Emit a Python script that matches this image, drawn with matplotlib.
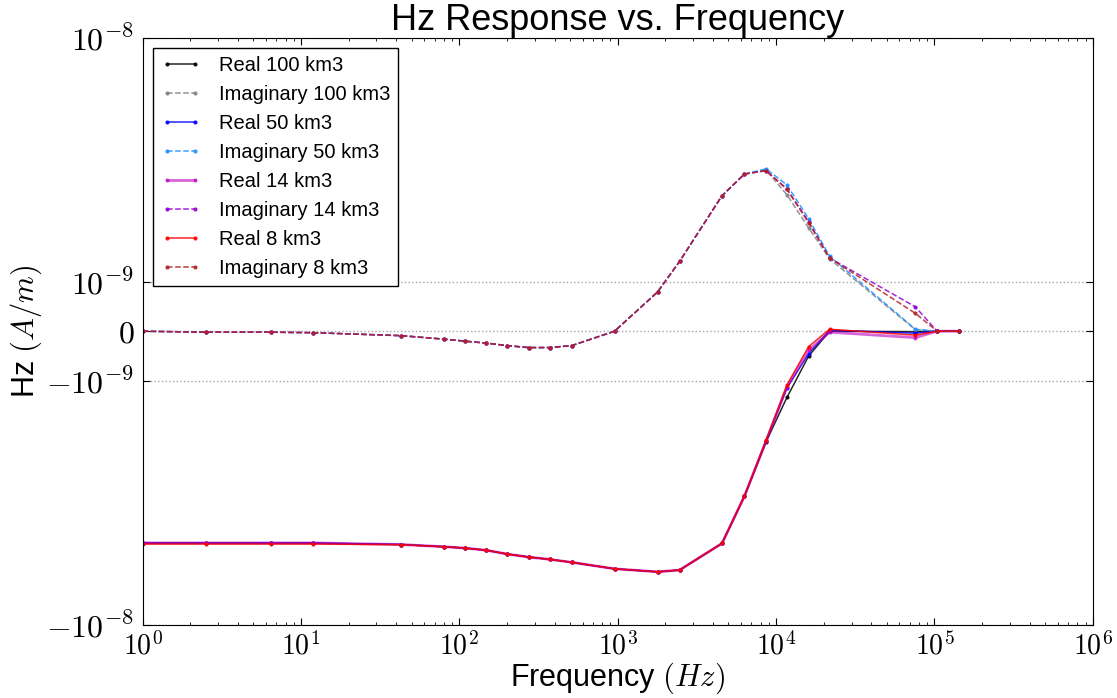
import numpy as np
import matplotlib
matplotlib.use("Agg")
import matplotlib.pyplot as plt
from matplotlib.ticker import FixedLocator, NullLocator, FuncFormatter

plt.rcParams['font.family'] = ['Liberation Sans', 'DejaVu Sans']
plt.rcParams['mathtext.fontset'] = 'cm'

# frequencies sampled (Hz)
freqs = [1, 2.5, 6.5, 12, 43, 80, 108, 148, 200, 274, 375, 514, 956,
         1786, 2460, 4560, 6320, 8650, 11720, 16070, 21800, 75900, 104000, 142500]

# Hz response, in units of 1e-9 A/m
real_100 = [-4.63, -4.63, -4.63, -4.63, -4.69, -4.79, -4.85, -4.95, -5.13, -5.28, -5.40, -5.55, -5.90,
            -6.07, -5.97, -4.64, -2.98, -1.78, -1.17, -0.50, 0.00, -0.01, 0.0, 0.0]
imag_100 = [0.0, -0.02, -0.02, -0.03, -0.09, -0.16, -0.20, -0.24, -0.29, -0.33, -0.33, -0.29, 0.0,
            0.79, 1.21, 2.25, 2.76, 2.87, 2.27, 1.66, 1.24, 0.03, 0.0, 0.0]
real_50 = [-4.62, -4.62, -4.62, -4.62, -4.69, -4.79, -4.85, -4.95, -5.13, -5.28, -5.40, -5.55, -5.90,
           -6.07, -5.97, -4.64, -2.97, -1.76, -1.07, -0.45, 0.02, -0.04, 0.0, 0.0]
imag_50 = [0.0, -0.02, -0.02, -0.03, -0.09, -0.16, -0.20, -0.24, -0.29, -0.33, -0.33, -0.29, 0.0,
           0.79, 1.21, 2.25, 2.76, 2.90, 2.49, 1.81, 1.27, 0.04, 0.0, 0.0]
real_14 = [-4.62, -4.62, -4.62, -4.62, -4.69, -4.79, -4.85, -4.95, -5.13, -5.28, -5.40, -5.55, -5.90,
           -6.07, -5.97, -4.64, -2.97, -1.77, -1.06, -0.38, -0.02, -0.13, 0.0, 0.0]
imag_14 = [0.0, -0.02, -0.02, -0.03, -0.09, -0.16, -0.20, -0.24, -0.29, -0.33, -0.33, -0.29, 0.0,
           0.79, 1.21, 2.25, 2.76, 2.85, 2.40, 1.76, 1.25, 0.49, 0.0, 0.0]
real_8 = [-4.67, -4.67, -4.67, -4.67, -4.70, -4.79, -4.85, -4.95, -5.13, -5.28, -5.40, -5.55, -5.90,
          -6.07, -5.97, -4.64, -2.96, -1.75, -1.04, -0.31, 0.04, -0.08, 0.0, 0.0]
imag_8 = [0.0, -0.02, -0.02, -0.03, -0.09, -0.16, -0.20, -0.24, -0.29, -0.33, -0.33, -0.29, 0.0,
          0.79, 1.21, 2.25, 2.76, 2.85, 2.39, 1.74, 1.25, 0.36, 0.0, 0.0]

series = [
    ("Real 100 km3", real_100, 'k', '-'),
    ("Imaginary 100 km3", imag_100, 'gray', '--'),
    ("Real 50 km3", real_50, 'b', '-'),
    ("Imaginary 50 km3", imag_50, 'dodgerblue', '--'),
    ("Real 14 km3", real_14, 'm', '-'),
    ("Imaginary 14 km3", imag_14, 'darkviolet', '--'),
    ("Real 8 km3", real_8, 'r', '-'),
    ("Imaginary 8 km3", imag_8, 'firebrick', '--'),
]

y_ticks = [-1e-8, -1e-9, 0, 1e-9, 1e-8]
y_labels = [r'$-10^{-8}$', r'$-10^{-9}$', r'$0$', r'$10^{-9}$', r'$10^{-8}$']
x_ticks = [1, 10, 100, 1e3, 1e4, 1e5, 1e6]
x_labels = [r'$10^{%d}$' % i for i in range(7)]

fig = plt.figure(figsize=(11.17, 6.98), dpi=100)
ax = fig.add_axes([0.1276, 0.105, 0.8507, 0.841])

for label, vals, col, ls in series:
    lw = 2 if label == "Real 14 km3" else 1.1
    al = 0.6 if label == "Real 14 km3" else 0.85
    ax.plot(freqs, np.array(vals) * 1e-9, color=col, linestyle=ls, marker='.',
            markersize=4, linewidth=lw, alpha=al, label=label)

ax.set_xscale('log')
ax.set_yscale('symlog', linthresh=1e-9, linscale=0.183)
ax.set_xlim(1, 1e6)
ax.set_ylim(-1e-8, 1e-8)
ax.yaxis.set_major_locator(FixedLocator(y_ticks))
ax.yaxis.set_major_formatter(FuncFormatter(lambda v, p: y_labels[p] if p is not None and p < len(y_labels) else ''))
ax.yaxis.set_minor_locator(NullLocator())
ax.xaxis.set_major_locator(FixedLocator(x_ticks))
ax.xaxis.set_major_formatter(FuncFormatter(lambda v, p: x_labels[p] if p is not None and p < len(x_labels) else ''))
ax.yaxis.grid(True, linestyle=':', color='0.65', linewidth=1)

ax.tick_params(which='both', direction='in', top=True, right=True)
ax.tick_params(which='major', length=5)
ax.tick_params(which='minor', length=2.5)
ax.tick_params(axis='y', labelsize=23, pad=6)
ax.tick_params(axis='x', labelsize=20, pad=5)

ax.set_title("Hz Response vs. Frequency", fontsize=26, pad=3)
ax.set_xlabel("Frequency $(Hz)$", fontsize=22, labelpad=0)
ax.set_ylabel("Hz $(A/m)$", fontsize=22, labelpad=2)

leg = ax.legend(loc='upper left', fontsize=14.5, handlelength=2.0, handletextpad=0.9,
                labelspacing=0.5, borderaxespad=0.5, fancybox=False, framealpha=1,
                numpoints=2)
leg.get_frame().set_edgecolor('k')

fig.savefig("out.png", dpi=100)
